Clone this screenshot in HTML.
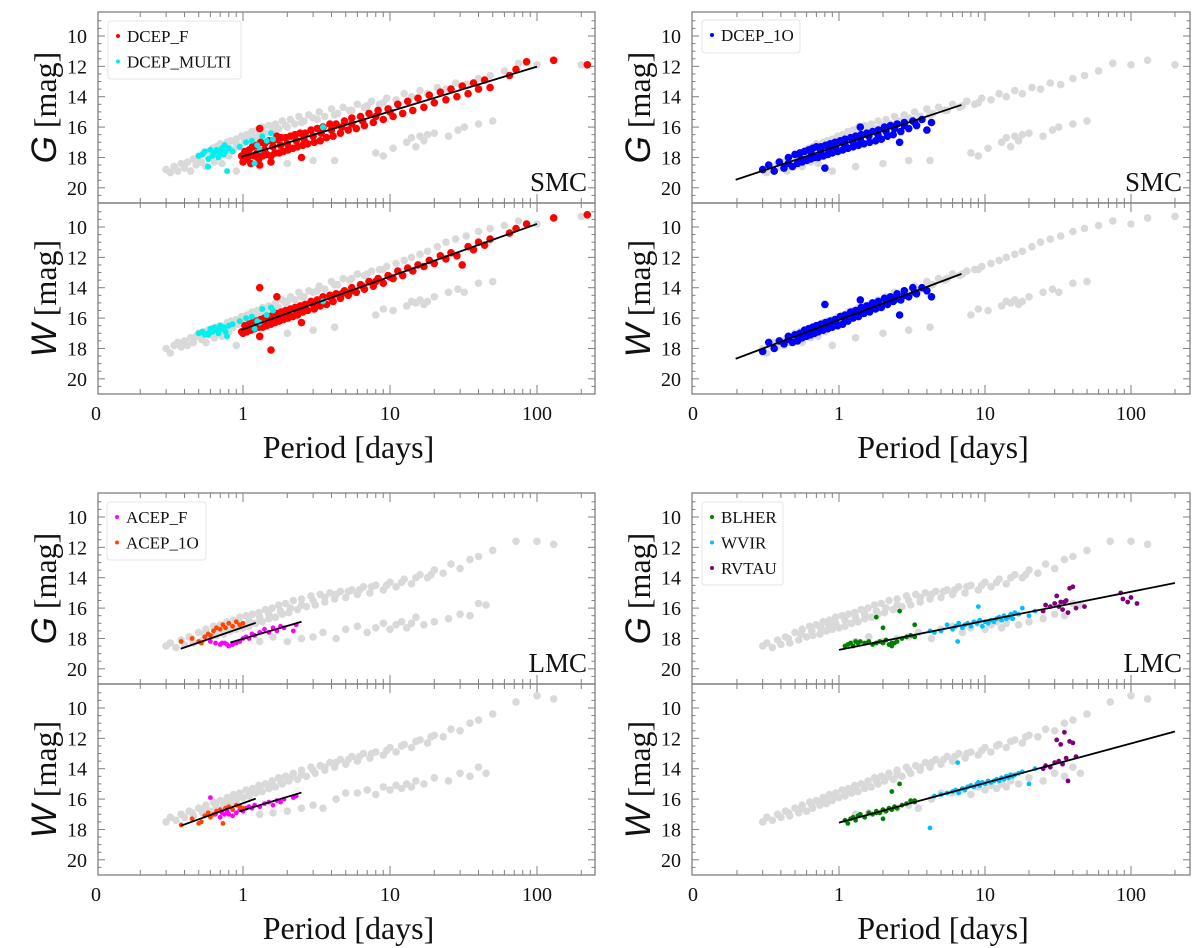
<!DOCTYPE html>
<html><head><meta charset="utf-8"><style>
html,body{margin:0;padding:0;background:#fff;}
svg{display:block;font-family:"Liberation Serif",serif;}
</style></head><body>
<svg id="chart" width="1200" height="948" viewBox="0 0 1200 948" xmlns="http://www.w3.org/2000/svg"></svg>
<script>
// ---------- DATA ----------
const smcGrayP=[0.3,0.32,0.34,0.36,0.38,0.4,0.42,0.44,0.46,0.48,0.5,0.52,0.54,0.56,0.58,0.6,0.62,0.64,0.66,0.68,0.7,0.72,0.75,0.78,0.8,0.83,0.86,0.9,0.94,0.98,1.02,1.06,1.1,1.15,1.2,1.25,1.3,1.36,1.42,1.5,1.58,1.66,1.75,1.85,1.95,2.1,2.25,2.4,2.6,2.8,3.0,3.3,3.6,4.0,4.4,4.8,5.3,6,6.7,7.5,8.5,9.5,11,12.5,14,16,18,21,24,28,33,40,48,60,75,100,130,200,0.9,1.3,2,3,4.2,8,9,10.5,13,14,15,16,17,18,20,25,29,32,40,50,0.4,0.5,0.6,0.7,0.8,0.9,1.1,1.3,1.6,2.0,2.5,3.2,4.2,5.5,7,9];
const smcGrayG=[18.8,19.0,18.6,18.9,18.4,18.7,18.3,18.9,18.1,18.5,17.9,18.3,17.7,18.6,17.6,18.0,17.4,18.3,17.3,17.8,17.1,18.4,17.4,17.0,17.9,16.9,17.5,16.8,17.3,16.6,17.0,16.5,16.9,16.3,16.7,16.2,16.5,16.0,16.4,15.9,16.2,15.8,16.1,15.6,15.9,15.5,15.8,15.3,15.6,15.2,15.4,15.0,15.3,14.8,15.1,14.7,14.9,14.5,14.7,14.3,14.5,14.1,14.2,13.8,14.0,13.6,13.8,13.4,13.5,13.1,13.2,12.8,12.6,12.3,11.8,11.9,11.6,11.9,18.9,18.6,18.4,18.2,18.2,17.7,17.9,17.4,17.0,16.7,17.3,16.6,16.9,16.5,16.4,16.6,16.2,16.0,15.8,15.6,18.5,18.1,17.8,17.6,17.4,17.1,16.8,16.6,16.3,16.0,15.7,15.5,15.2,14.9,14.6,14.4];
const smcGrayW=[18.0,18.3,17.8,17.6,17.9,17.5,17.8,17.3,17.6,17.2,17.0,17.4,16.9,17.6,16.8,17.1,16.7,17.3,16.6,16.9,16.5,17.2,16.6,16.3,16.9,16.2,16.6,16.1,16.4,15.9,16.2,15.8,16.1,15.6,15.9,15.5,15.7,15.3,15.6,15.2,15.4,15.0,15.3,14.8,15.0,14.6,14.8,14.3,14.6,14.2,14.3,13.9,14.1,13.6,13.8,13.4,13.5,13.1,13.2,12.9,12.8,12.6,12.4,12.2,12.0,11.8,11.6,11.3,11.0,10.8,10.6,10.3,10.1,9.9,9.6,9.8,9.4,9.3,17.8,17.3,17.0,16.8,16.6,15.8,15.4,15.5,15.2,14.9,15.0,14.8,15.1,14.9,14.6,14.3,14.1,14.3,13.7,13.6,17.6,17.2,16.9,16.7,16.5,16.3,16.0,15.7,15.3,14.9,14.6,14.2,13.8,13.4,13.1,12.8];

const smcFP=[1.0,1.03,1.06,1.1,1.13,1.16,1.2,1.24,1.28,1.32,1.36,1.4,1.45,1.5,1.55,1.6,1.65,1.7,1.76,1.82,1.88,1.95,2.02,2.1,2.18,2.26,2.35,2.45,2.55,2.65,2.75,2.9,3.05,3.2,3.35,3.5,3.7,3.9,4.1,4.3,4.6,4.9,5.2,5.5,5.9,6.3,6.7,7.2,7.7,8.3,9,9.7,10.5,11.3,12.2,13.2,14.3,15.5,17,18.5,20,22,24,26,28.5,31,34,37,40,44,48,65,72,85,130,220,1.3,1.7,1.3,1.55,2.5,0.98,1.1,1.25,1.4,1.6,1.8,2.0,2.3,2.6,3.0,3.4,4.0,4.7,5.5,6.5,8,10];
const smcFG=[18.3,17.6,18.1,17.5,18.4,17.3,17.9,17.2,18.1,17.0,17.9,17.1,17.8,16.9,17.9,16.9,17.7,16.8,17.7,16.7,17.6,16.7,17.5,16.6,17.4,16.5,17.3,16.4,17.2,16.4,17.1,16.2,17.0,16.1,16.9,16.0,16.7,15.8,16.6,15.8,16.4,15.6,16.2,15.4,16.1,15.3,15.9,15.1,15.7,14.9,15.5,14.8,15.3,14.5,15.1,14.3,14.9,14.1,14.7,13.9,14.4,13.7,14.2,13.5,14.0,13.3,13.8,13.1,13.5,12.9,13.4,12.6,12.2,11.7,11.6,11.9,16.1,16.6,18.5,18.3,18.0,17.9,17.9,17.7,17.5,17.3,17.2,17.1,16.9,16.8,16.6,16.4,16.2,16.0,15.8,15.6,15.3,15.0];
const smcFW=[17.0,16.5,16.9,16.4,16.8,16.3,16.7,16.2,16.6,16.1,16.6,16.0,16.5,15.9,16.4,15.8,16.3,15.7,16.2,15.6,16.1,15.5,16.0,15.4,15.9,15.3,15.8,15.2,15.6,15.1,15.5,14.9,15.4,14.8,15.2,14.6,15.1,14.5,14.9,14.4,14.7,14.2,14.5,14.0,14.3,13.8,14.1,13.6,13.9,13.4,13.7,13.2,13.4,12.9,13.2,12.7,12.9,12.5,12.6,12.2,12.4,11.9,12.1,11.7,11.9,12.5,11.3,11.5,11.0,11.2,10.8,10.4,10.1,9.8,9.4,9.2,14.0,14.6,17.2,18.1,16.3,16.9,16.7,16.5,16.3,16.1,15.9,15.7,15.5,15.3,15.1,14.9,14.7,14.4,14.2,13.9,13.6,13.3];

const smcMultiP=[0.5,0.53,0.55,0.58,0.6,0.62,0.64,0.66,0.68,0.7,0.72,0.74,0.76,0.78,0.8,0.85,0.95,1.05,1.15,1.25,1.35,1.45,1.55,1.6,1.3,1.2,3.5,0.75,0.58];
const smcMultiG=[17.9,17.8,17.6,18.6,17.5,17.9,17.7,17.5,18.0,17.7,17.4,17.8,17.6,18.9,17.4,17.6,17.3,17.0,16.9,17.2,16.6,16.9,16.4,16.8,17.5,18.4,16.0,17.2,18.1];
const smcMultiW=[17.0,16.9,17.1,17.0,16.7,16.9,16.6,16.8,17.0,16.5,16.7,16.6,16.9,17.2,16.5,16.4,16.2,16.0,15.9,16.2,15.4,15.8,15.3,15.5,16.3,16.7,14.9,16.8,17.1];

const smc1OP=[0.3,0.33,0.36,0.39,0.42,0.45,0.48,0.5,0.52,0.54,0.56,0.58,0.6,0.62,0.64,0.66,0.68,0.7,0.72,0.75,0.78,0.81,0.84,0.87,0.9,0.94,0.98,1.02,1.06,1.1,1.15,1.2,1.25,1.3,1.36,1.42,1.48,1.55,1.62,1.7,1.78,1.86,1.95,2.05,2.15,2.25,2.35,2.5,2.65,2.8,3.0,3.2,3.4,3.7,4.0,4.3,0.8,1.4,2.6,0.45,0.55,0.65,0.75,0.85,0.95,1.1,1.25,1.4,1.6,1.85,2.1,2.4,2.8,3.3];
const smc1OG=[18.8,18.5,18.9,18.3,18.7,18.0,18.6,17.8,18.4,17.7,18.3,17.6,18.2,17.5,18.1,17.4,18.0,17.3,18.0,17.3,17.9,17.2,17.8,17.1,17.7,17.0,17.6,16.9,17.5,16.8,17.4,16.7,17.3,16.6,17.2,16.5,17.1,16.4,17.0,16.3,16.9,16.2,16.8,16.0,16.6,15.9,16.5,15.8,16.3,15.7,16.1,15.6,15.9,15.5,16.2,15.7,18.7,16.0,17.0,18.4,18.1,17.8,17.6,17.5,17.3,17.2,17.0,16.8,16.6,16.5,16.3,16.1,15.9,15.7];
const smc1OW=[18.2,17.6,18.0,17.5,17.7,17.2,17.6,17.1,17.5,17.0,17.3,16.8,17.2,16.7,17.1,16.6,17.0,16.5,16.9,16.4,16.8,16.3,16.7,16.2,16.6,16.1,16.5,15.9,16.4,15.8,16.2,15.6,16.0,15.5,15.9,15.3,15.7,15.2,15.6,15.0,15.4,14.9,15.3,14.7,15.1,14.6,14.9,14.4,14.8,14.2,14.6,14.0,14.4,14.0,14.2,14.6,15.1,14.8,15.8,17.4,17.1,16.8,16.6,16.4,16.2,16.0,15.8,15.6,15.4,15.2,15.0,14.8,14.5,14.3];

const lmcGrayP=[0.3,0.32,0.35,0.38,0.4,0.43,0.46,0.5,0.53,0.56,0.6,0.63,0.66,0.7,0.74,0.78,0.82,0.86,0.9,0.95,1.0,1.05,1.1,1.16,1.22,1.28,1.35,1.42,1.5,1.58,1.66,1.75,1.85,1.95,2.05,2.2,2.35,2.5,2.7,2.9,3.1,3.35,3.6,3.9,4.2,4.6,5,5.5,6,6.6,7.3,8,9,10,11,12.5,14,16,18,20,23,26,30,35,40,50,72,100,130,1.3,1.6,2.0,2.5,3.0,3.5,4.3,5,6,7,8,9,10,11,12,13,14,15,17,20,25,30,35,40,45,0.45,0.55,0.65,0.75,0.85,0.95,1.1,1.3,1.5,1.8,2.1,2.5,3,3.6,4.3,5.2,6.2,7.5,9.5,12,15,19];
const lmcGrayG=[18.5,18.3,18.6,18.1,18.4,17.9,18.3,17.6,18.1,17.4,17.9,17.2,17.8,17.1,17.7,16.9,17.5,16.8,17.4,16.6,17.3,16.5,17.2,16.4,17.0,16.3,16.9,16.1,16.7,16.0,16.6,15.8,16.4,15.7,16.3,15.5,16.1,15.4,15.9,15.2,15.8,15.1,15.6,15.0,15.4,14.9,15.3,14.8,15.1,14.6,15.0,14.5,14.8,14.3,14.6,14.1,14.4,13.8,14.0,13.5,13.7,13.1,13.4,12.8,12.6,12.2,11.6,11.6,11.8,18.2,17.9,18.2,18.0,17.9,17.6,18.0,17.4,17.2,17.6,17.3,17.0,17.4,17.1,16.9,17.3,17.0,16.6,17.1,16.9,16.7,16.4,16.5,15.7,15.8,18.0,17.7,17.5,17.3,17.1,17.0,16.8,16.6,16.4,16.2,16.0,15.8,15.5,15.3,15.1,14.9,14.8,14.6,14.5,14.3,14.0,13.8];
const lmcGrayW=[17.5,17.2,17.4,17.0,17.2,16.8,17.1,16.6,16.9,16.4,16.8,16.2,16.6,16.1,16.4,15.9,16.3,15.7,16.1,15.6,15.9,15.4,15.8,15.3,15.6,15.1,15.5,15.0,15.3,14.8,15.2,14.6,15.0,14.5,14.8,14.3,14.7,14.1,14.5,13.9,14.3,13.8,14.1,13.6,13.9,13.4,13.7,13.2,13.5,13.0,13.3,12.9,13.1,12.6,12.9,12.4,12.6,12.1,12.3,11.8,11.9,11.4,11.5,11.0,10.8,10.4,9.6,9.2,9.4,17.0,16.9,16.8,16.6,16.4,16.6,16.0,15.6,15.6,15.4,15.7,15.2,15.4,15.1,15.3,15.0,15.2,14.8,15.0,14.6,14.8,14.3,14.5,13.9,14.3,16.9,16.6,16.4,16.2,16.0,15.8,15.6,15.3,15.1,14.8,14.6,14.4,14.1,13.9,13.6,13.4,13.2,13.0,12.8,12.5,12.2,11.9];

const acepFP=[0.6,0.65,0.7,0.72,0.75,0.78,0.8,0.85,0.9,0.95,1.0,1.05,1.1,1.15,1.2,1.3,1.4,1.5,1.6,1.7,1.8,1.9,2.2,2.3];
const acepFG=[18.2,18.3,18.4,18.3,18.3,18.4,18.5,18.4,18.3,18.2,18.0,17.9,18.0,17.7,17.8,17.6,17.4,17.6,17.3,17.5,17.2,17.3,17.5,17.1];
const acepFW=[15.9,17.0,17.2,16.9,17.0,16.8,17.0,17.1,16.9,16.7,16.8,16.6,16.5,16.6,16.4,16.5,16.3,16.2,16.4,16.1,16.2,16.0,15.9,15.8];
const acep1OP=[0.38,0.45,0.5,0.52,0.55,0.58,0.6,0.63,0.66,0.7,0.73,0.76,0.8,0.85,0.9,0.95,1.0];
const acep1OG=[18.2,18.0,18.2,18.3,17.9,17.7,17.8,17.5,17.3,17.4,17.1,17.3,17.0,17.2,16.9,17.1,17.0];
const acep1OW=[17.7,17.3,17.6,17.5,17.1,16.9,17.2,17.0,16.8,16.7,17.6,16.6,16.5,16.7,16.4,16.5,16.6];

const blherP=[1.1,1.15,1.2,1.25,1.3,1.35,1.4,1.5,1.6,1.7,1.8,1.9,2.0,2.1,2.2,2.3,2.4,2.5,2.7,2.9,3.1,3.3,1.8,2.0,2.6,3.3,2.3];
const blherG=[18.5,18.4,18.3,18.5,18.2,18.3,18.2,18.3,18.2,18.4,18.3,18.2,18.3,18.1,18.4,18.5,18.3,18.2,18.0,17.9,17.8,17.9,16.6,17.3,16.2,17.1,18.3];
const blherW=[17.4,17.6,17.3,17.2,17.4,17.1,17.0,17.2,16.9,17.0,16.8,16.9,16.7,16.8,16.6,16.7,16.5,16.6,16.4,16.3,16.1,16.2,16.9,17.3,15.0,16.1,15.5];
const wvirP=[4.5,5,5.5,6,6.3,6.6,7,7.3,7.6,8,8.4,8.8,9.2,9.6,10,10.5,11,11.5,12,12.5,13,13.5,14,14.5,15,15.5,16,17,18,20,22,6.5,9,4.2];
const wvirG=[17.6,17.5,17.1,17.4,17.2,17.0,17.3,17.1,17.0,17.2,16.9,17.0,16.8,17.2,16.9,17.0,16.8,16.9,16.7,16.6,16.8,16.5,16.7,16.6,16.4,16.7,16.3,16.4,16.0,16.5,16.2,18.2,15.9,17.5];
const wvirW=[15.8,15.7,15.6,15.5,15.4,15.6,15.3,15.4,15.2,15.1,15.2,15.0,15.1,14.9,15.0,14.8,14.9,14.8,14.7,14.8,14.6,14.7,14.5,14.6,14.4,14.5,14.4,14.3,14.2,15.0,14.0,13.6,14.9,17.9];
const rvtauP=[25,26,28,30,31,32,33,34,35,36,37,38,40,42,48,85,88,95,100,110];
const rvtauG=[16.2,15.8,15.9,15.7,15.2,15.9,15.6,16.1,15.6,15.5,16.3,14.7,14.6,16.0,15.9,15.0,15.4,15.6,15.3,15.7];
const rvtauW=[14.0,13.8,13.9,13.6,12.1,13.5,12.4,13.7,11.6,13.3,14.8,12.2,12.3,13.2,null,null,null,null,null,null];

// fit lines: [P1, mag1, P2, mag2]
const fitSmcFG=[0.97,17.96,100,12.02];
const fitSmcFW=[0.97,16.78,100,9.8];
const fitSmc1OG=[0.196,19.47,6.9,14.54];
const fitSmc1OW=[0.196,18.68,6.9,13.09];
const fitAcep1OG=[0.377,18.68,1.22,16.97];
const fitAcepFG=[0.82,18.27,2.5,16.9];
const fitAcep1OW=[0.377,17.76,1.22,15.97];
const fitAcepFW=[0.95,16.8,2.5,15.57];
const fitT2G=[1,18.75,200,14.35];
const fitT2W=[1,17.55,200,11.55];

const yTicks=[10,12,14,16,18,20];
const xTickVals=[0.1,1,10,100];
const xTickLabels=["0","1","10","100"];

// ---------- LAYOUT ----------
const NS="http://www.w3.org/2000/svg";
const svg=document.getElementById('chart');
const cols=[{left:98,right:595,x1:243,dec:147},{left:692,right:1190,x1:839,dec:146}];
const rowTops=[12,203,493,684];
const PH=191, MAGTOP=8.42, MAGBOT=21.0;
function xs(c,p){return c.x1+Math.log10(p)*c.dec;}
function ys(r,m){return r+(m-MAGTOP)/(MAGBOT-MAGTOP)*PH;}
function mk(tag,attrs,parent){const e=document.createElementNS(NS,tag);for(const k in attrs)e.setAttribute(k,attrs[k]);(parent||svg).appendChild(e);return e;}
function txt(x,y,s,attrs,parent){const t=mk('text',Object.assign({x:x,y:y},attrs),parent);t.textContent=s;return t;}

function drawPanel(ci,ri,name){
  const c=cols[ci], top=rowTops[ri];
  const g=mk('g',{});
  
  
  mk('rect',{x:c.left,y:top,width:c.right-c.left,height:PH,fill:'none',stroke:'#7f7f7f','stroke-width':1.3},g);
  for(let m=9;m<=21;m+=0.5){
    const y=ys(top,m); if(y<=top+1||y>=top+PH-1)continue;
    const major=(m%2===0)&&m>=10&&m<=20; const L=major?7:3.5;
    mk('line',{x1:c.left,y1:y,x2:c.left+L,y2:y,stroke:'#7f7f7f','stroke-width':1},g);
    mk('line',{x1:c.right,y1:y,x2:c.right-L,y2:y,stroke:'#7f7f7f','stroke-width':1},g);
  }
  for(let d=-1;d<=2;d++){for(let k=1;k<=9;k++){
    const p=k*Math.pow(10,d); const x=xs(c,p); if(x<=c.left+1||x>=c.right)continue;
    const L=k===1?9:5;
    mk('line',{x1:x,y1:top,x2:x,y2:top+L,stroke:'#7f7f7f','stroke-width':1},g);
    mk('line',{x1:x,y1:top+PH,x2:x,y2:top+PH-L,stroke:'#7f7f7f','stroke-width':1},g);
  }}
  yTicks.forEach(v=>{const t=txt(c.left-11,ys(top,v)+7,String(v),{'font-size':20,'text-anchor':'end',fill:'#111'},g);
    
    });
  return g;
}
function scatter(ci,ri,P,M,color,r,name){
  const c=cols[ci], top=rowTops[ri];
  const g=mk('g',{fill:color});
  
  
  for(let i=0;i<Math.min(P.length,M.length);i++){
    if(M[i]===null)continue;
    const x=xs(c,P[i]), y=ys(top,M[i]);
    if(x<c.left||x>c.right)continue;
    const e=mk('circle',{cx:x.toFixed(1),cy:y.toFixed(1),r:r},g);
    
    
  }
}
function fit(ci,ri,f,name){
  const c=cols[ci], top=rowTops[ri];
  const l=mk('line',{x1:xs(c,f[0]),y1:ys(top,f[1]),x2:xs(c,f[2]),y2:ys(top,f[3]),stroke:'#000','stroke-width':1.8});
  
  
}
function legend(x,y,w,entries,name){
  const g=mk('g',{});
  
  
  mk('rect',{x:x,y:y,width:w,height:entries.length*25+8,rx:3,fill:'#fff',stroke:'#e4e4e4','stroke-width':1},g);
  entries.forEach((e,i)=>{
    const cy=y+15+i*25.5;
    mk('circle',{cx:x+10,cy:cy,r:2,fill:e[1]},g);
    const t=txt(x+19,cy+6,e[0],{'font-size':17,fill:'#111'},g);
    
    
  });
}
function xLabels(ci,ri){
  const c=cols[ci], bot=rowTops[ri]+PH;
  xTickVals.forEach((v,i)=>{const t=txt(xs(c,v),bot+26,xTickLabels[i],{'font-size':20,'text-anchor':'middle',fill:'#111'});
    
    });
  const t=txt((c.left+c.right)/2+2,bot+64,'Period [days]',{'font-size':32,'text-anchor':'middle',fill:'#111'});
  
  
}
function yTitle(ci,ri,letter){
  const c=cols[ci], cy=rowTops[ri]+PH/2;
  const cx=c.left-53;
  const t=mk('text',{x:cx,y:cy,transform:`rotate(-90 ${cx} ${cy})`,'text-anchor':'middle','font-size':32,fill:'#111',dy:11});
  const a=mk('tspan',{'font-family':'Liberation Sans, sans-serif','font-style':'italic','font-size':35},t);a.textContent=letter;
  const b=mk('tspan',{},t);b.textContent=' [mag]';
  
  
}
function galaxy(ci,ri,s){
  const c=cols[ci];
  const t=txt(c.right-8,rowTops[ri]+PH-12,s,{'font-size':27,'text-anchor':'end',fill:'#111'});
  
  
}

const GRAY='#d9d9d9';
[[0,0],[0,1],[1,0],[1,1],[0,2],[0,3],[1,2],[1,3]].forEach(([c,r])=>drawPanel(c,r,'panel-'+c+'-'+r));

const RG=3.8, RD=3.8;
scatter(0,0,smcGrayP,smcGrayG,GRAY,RG,'smc-gray-g');
scatter(0,1,smcGrayP,smcGrayW,GRAY,RG,'smc-gray-w');
scatter(0,0,smcFP,smcFG,'#ff0000',RD,'dcep-f-g');
scatter(0,1,smcFP,smcFW,'#ff0000',RD,'dcep-f-w');
scatter(0,0,smcMultiP,smcMultiG,'#00f0f0',3,'dcep-multi-g');
scatter(0,1,smcMultiP,smcMultiW,'#00f0f0',3,'dcep-multi-w');
fit(0,0,fitSmcFG,'fit-dcep-f-g');fit(0,1,fitSmcFW,'fit-dcep-f-w');
scatter(1,0,smcGrayP,smcGrayG,GRAY,RG,'smc-gray-g-right');
scatter(1,1,smcGrayP,smcGrayW,GRAY,RG,'smc-gray-w-right');
scatter(1,0,smc1OP,smc1OG,'#0000ff',RD,'dcep-1o-g');
scatter(1,1,smc1OP,smc1OW,'#0000ff',RD,'dcep-1o-w');
fit(1,0,fitSmc1OG,'fit-dcep-1o-g');fit(1,1,fitSmc1OW,'fit-dcep-1o-w');
scatter(0,2,lmcGrayP,lmcGrayG,GRAY,RG,'lmc-gray-g');
scatter(0,3,lmcGrayP,lmcGrayW,GRAY,RG,'lmc-gray-w');
scatter(0,2,acepFP,acepFG,'#ff00ff',2.4,'acep-f-g');
scatter(0,3,acepFP,acepFW,'#ff00ff',2.4,'acep-f-w');
scatter(0,2,acep1OP,acep1OG,'#ff4500',2.4,'acep-1o-g');
scatter(0,3,acep1OP,acep1OW,'#ff4500',2.4,'acep-1o-w');
fit(0,2,fitAcep1OG,'fit-acep-1o-g');fit(0,2,fitAcepFG,'fit-acep-f-g');
fit(0,3,fitAcep1OW,'fit-acep-1o-w');fit(0,3,fitAcepFW,'fit-acep-f-w');
scatter(1,2,lmcGrayP,lmcGrayG,GRAY,RG,'lmc-gray-g-right');
scatter(1,3,lmcGrayP,lmcGrayW,GRAY,RG,'lmc-gray-w-right');
scatter(1,2,blherP,blherG,'#008000',2.4,'blher-g');
scatter(1,3,blherP,blherW,'#008000',2.4,'blher-w');
scatter(1,2,wvirP,wvirG,'#00bfff',2.4,'wvir-g');
scatter(1,3,wvirP,wvirW,'#00bfff',2.4,'wvir-w');
scatter(1,2,rvtauP,rvtauG,'#800080',2.4,'rvtau-g');
scatter(1,3,rvtauP,rvtauW,'#800080',2.4,'rvtau-w');
fit(1,2,fitT2G,'fit-t2-g');fit(1,3,fitT2W,'fit-t2-w');

[0,1].forEach(c=>{yTitle(c,0,'G');yTitle(c,1,'W');yTitle(c,2,'G');yTitle(c,3,'W');xLabels(c,1);xLabels(c,3);});
galaxy(0,0,'SMC');galaxy(1,0,'SMC');galaxy(0,2,'LMC');galaxy(1,2,'LMC');
legend(108,21,133,[['DCEP_F','#ff0000'],['DCEP_MULTI','#00f0f0']],'legend-smc-left');
legend(702,20,98,[['DCEP_1O','#0000ff']],'legend-smc-right');
legend(107,502,99,[['ACEP_F','#ff00ff'],['ACEP_1O','#ff4500']],'legend-lmc-left');
legend(702,502,81,[['BLHER','#008000'],['WVIR','#00bfff'],['RVTAU','#800080']],'legend-lmc-right');
</script>
</body></html>
